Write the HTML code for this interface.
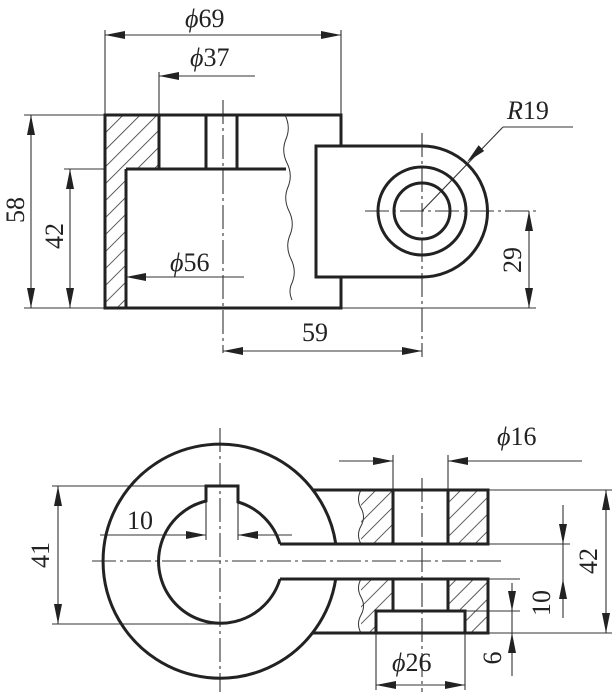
<!DOCTYPE html>
<html><head><meta charset="utf-8"><style>
html,body{margin:0;padding:0;background:#fff;}
svg{display:block;}
text{font-family:"Liberation Serif",serif;font-size:26px;fill:#222;}
</style></head><body>
<svg width="612" height="692" viewBox="0 0 612 692" xmlns="http://www.w3.org/2000/svg">
<defs>
<pattern id="h" patternUnits="userSpaceOnUse" width="12" height="12" patternTransform="rotate(45)"><line x1="0" y1="0" x2="0" y2="12" stroke="#333" stroke-width="1.6"/></pattern>
<path id="ar" d="M0,0 L20,-4 L20,4 Z" fill="#222"/>
</defs>

<!-- ===== TOP VIEW ===== -->
<g fill="none" stroke="#333" stroke-width="1.1">
  <line x1="223" y1="100" x2="223" y2="353" stroke-dasharray="24,4,3,4"/>
  <line x1="422" y1="133" x2="422" y2="357" stroke-dasharray="24,4,3,4"/>
  <line x1="365" y1="211" x2="536" y2="211" stroke-dasharray="24,4,3,4"/>
  <line x1="105" y1="30" x2="105" y2="115"/>
  <line x1="341" y1="30" x2="341" y2="115"/>
  <line x1="159" y1="72" x2="159" y2="115"/>
  <line x1="24" y1="115" x2="105" y2="115"/>
  <line x1="24" y1="308" x2="105" y2="308"/>
  <line x1="64" y1="169" x2="105" y2="169"/>
  <line x1="341" y1="308" x2="536" y2="308"/>
  <line x1="105" y1="35" x2="341" y2="35"/>
  <line x1="255" y1="76" x2="159" y2="76"/>
  <line x1="31" y1="115" x2="31" y2="308"/>
  <line x1="70" y1="169" x2="70" y2="308"/>
  <line x1="244" y1="277" x2="126" y2="277"/>
  <line x1="223" y1="351" x2="422" y2="351"/>
  <line x1="529" y1="211" x2="529" y2="308"/>
  <line x1="422" y1="211" x2="503" y2="127"/>
  <line x1="503" y1="127" x2="573" y2="127"/>
</g>
<!-- arrows: use rotate: 0=pointing left, 180=right, 90=up, -90=down -->
<use href="#ar" transform="translate(105,35)"/>
<use href="#ar" transform="translate(341,35) rotate(180)"/>
<use href="#ar" transform="translate(159,76)"/>
<use href="#ar" transform="translate(31,115) rotate(90)"/>
<use href="#ar" transform="translate(31,308) rotate(-90)"/>
<use href="#ar" transform="translate(70,169) rotate(90)"/>
<use href="#ar" transform="translate(70,308) rotate(-90)"/>
<use href="#ar" transform="translate(126,277)"/>
<use href="#ar" transform="translate(223,351)"/>
<use href="#ar" transform="translate(422,351) rotate(180)"/>
<use href="#ar" transform="translate(529,211) rotate(90)"/>
<use href="#ar" transform="translate(529,308) rotate(-90)"/>
<use href="#ar" transform="translate(467,162) rotate(-44)"/>
<polygon points="105,115 159,115 159,169 126,169 126,308 105,308" fill="url(#h)"/>
<g fill="none" stroke="#222" stroke-width="3">
  <path d="M341,146 V115 H105 V308 H341 V277"/>
  <path d="M159,115 V169 M126,169 V308 M126,169 H286 M206,115 V169 M237,115 V169"/>
  <path d="M422,146 L316,146 L316,277 L422,277 A65.5,65.5 0 0 0 422,146"/>
  <circle cx="422" cy="211" r="44"/>
  <circle cx="422" cy="211" r="28"/>
</g>
<path d="M285,115 q6,12 1,24 q-5,12 1,24 q6,12 1,24 q-5,12 1,24 q6,12 1,24 q-5,12 1,24 q6,12 1,24 q-4,8 0,17" fill="none" stroke="#333" stroke-width="1"/>
<text x="185" y="27"><tspan font-style="italic">ϕ</tspan>69</text>
<text x="190" y="66"><tspan font-style="italic">ϕ</tspan>37</text>
<text x="170" y="271"><tspan font-style="italic">ϕ</tspan>56</text>
<text x="302" y="341">59</text>
<text x="507" y="119"><tspan font-style="italic">R</tspan>19</text>
<text transform="translate(24,210) rotate(-90)" text-anchor="middle">58</text>
<text transform="translate(63,236) rotate(-90)" text-anchor="middle">42</text>
<text transform="translate(521,260) rotate(-90)" text-anchor="middle">29</text>

<!-- ===== BOTTOM VIEW ===== -->
<g fill="none" stroke="#333" stroke-width="1.1">
  <line x1="220" y1="428" x2="220" y2="692" stroke-dasharray="24,4,3,4"/>
  <line x1="422" y1="478" x2="422" y2="692" stroke-dasharray="24,4,3,4"/>
  <line x1="92" y1="561" x2="504" y2="561" stroke-dasharray="24,4,3,4"/>
  <line x1="393" y1="455" x2="393" y2="490"/>
  <line x1="448" y1="455" x2="448" y2="490"/>
  <line x1="52" y1="486" x2="206" y2="486"/>
  <line x1="52" y1="624" x2="220" y2="624"/>
  <line x1="488" y1="490" x2="612" y2="490"/>
  <line x1="488" y1="633" x2="612" y2="633"/>
  <line x1="488" y1="544" x2="570" y2="544"/>
  <line x1="488" y1="579" x2="520" y2="579"/>
  <line x1="465" y1="611" x2="520" y2="611"/>
  <line x1="376" y1="633" x2="376" y2="690"/>
  <line x1="465" y1="633" x2="465" y2="690"/>
  <line x1="206" y1="486" x2="206" y2="540"/>
  <line x1="238" y1="486" x2="238" y2="540"/>
  <line x1="339" y1="461" x2="393" y2="461"/>
  <line x1="582" y1="461" x2="448" y2="461"/>
  <line x1="58" y1="486" x2="58" y2="624"/>
  <line x1="100" y1="535" x2="206" y2="535"/>
  <line x1="292" y1="535" x2="238" y2="535"/>
  <line x1="606" y1="490" x2="606" y2="633"/>
  <line x1="563" y1="505" x2="563" y2="618"/>
  <line x1="512" y1="583" x2="512" y2="676"/>
  <line x1="376" y1="685" x2="465" y2="685"/>
</g>
<use href="#ar" transform="translate(393,461) rotate(180)"/>
<use href="#ar" transform="translate(448,461)"/>
<use href="#ar" transform="translate(58,486) rotate(90)"/>
<use href="#ar" transform="translate(58,624) rotate(-90)"/>
<use href="#ar" transform="translate(206,535) rotate(180)"/>
<use href="#ar" transform="translate(238,535)"/>
<use href="#ar" transform="translate(606,490) rotate(90)"/>
<use href="#ar" transform="translate(606,633) rotate(-90)"/>
<use href="#ar" transform="translate(563,544) rotate(-90)"/>
<use href="#ar" transform="translate(563,579) rotate(90)"/>
<use href="#ar" transform="translate(512,611) rotate(-90)"/>
<use href="#ar" transform="translate(512,633) rotate(90)"/>
<use href="#ar" transform="translate(376,685)"/>
<use href="#ar" transform="translate(465,685) rotate(180)"/>
<g fill="url(#h)">
  <rect x="361" y="490" width="32" height="54"/>
  <rect x="448" y="490" width="40" height="54"/>
  <polygon points="361,579 393,579 393,611 376,611 376,633 361,633"/>
  <polygon points="448,579 488,579 488,633 465,633 465,611 448,611"/>
</g>
<path d="M361,490 q-5,9 0,18 q5,9 0,18 q-5,9 0,18 M361,579 q-5,9 0,18 q5,9 0,18 q-5,9 0,18" fill="none" stroke="#333" stroke-width="1"/>
<g fill="none" stroke="#222" stroke-width="3">
  <path d="M335.8,544 A117,117 0 1 0 335.7,579"/>
  <path d="M280,544 A62,62 0 0 0 238,502 L238,486 L206,486 L206,501 A62,62 0 1 0 280,579"/>
  <path d="M313,490 H488 V544 H280 M280,579 H488 V633 H312"/>
  <path d="M393,490 V544 M448,490 V544 M393,579 V611 M448,579 V611"/>
  <rect x="376" y="611" width="89" height="22"/>
</g>
<text x="497" y="445"><tspan font-style="italic">ϕ</tspan>16</text>
<text x="127" y="529">10</text>
<text x="392" y="671"><tspan font-style="italic">ϕ</tspan>26</text>
<text transform="translate(49,555) rotate(-90)" text-anchor="middle">41</text>
<text transform="translate(597,561) rotate(-90)" text-anchor="middle">42</text>
<text transform="translate(550,603) rotate(-90)" text-anchor="middle">10</text>
<text transform="translate(501,658) rotate(-90)" text-anchor="middle">6</text>
</svg>
</body></html>
